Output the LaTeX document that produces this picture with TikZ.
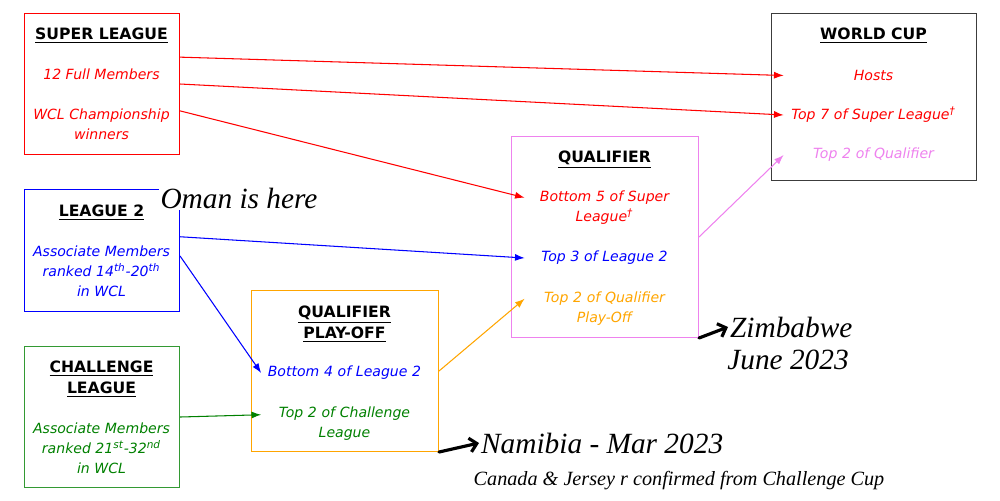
\documentclass[tikz,border=0pt]{standalone}
\usepackage{fontspec}
\setmainfont{DejaVu Sans}
\newfontfamily\handfont{Liberation Serif}
\usetikzlibrary{%
    arrows.meta,%
    positioning
    }
\definecolor{slred}{RGB}{255,0,0}
\definecolor{ltblue}{RGB}{0,0,255}
\definecolor{clgreen}{RGB}{0,128,0}
\definecolor{qporange}{RGB}{255,165,0}
\definecolor{qviolet}{RGB}{238,130,238}
\definecolor{wcgray}{RGB}{60,60,60}
\tikzset{
  stagebox/.style={
    rectangle,
    anchor=north west,
    line width=0.6pt,
    inner sep=0pt,
  },
  boxtitle/.style={
    align=center,
    inner sep=0pt,
    font=\fontsize{8.9}{11.9}\selectfont\bfseries,
  },
  boxentry/.style={
    align=center,
    inner sep=0pt,
    font=\fontsize{8}{11.3}\selectfont\itshape,
  },
  arrow3/.style={
    -{Latex[length=5.5pt,width=4pt]},
    line width=0.6pt,
  },
  handnote/.style={
    inner sep=1pt,
    font=\handfont\itshape\fontsize{16.7}{20}\selectfont,
  },
  handarrow/.style={
    -{Straight Barb[length=4pt,width=8pt]},
    line width=1.8pt,
    line cap=round,
  },
}

\begin{document}
\begin{tikzpicture}[x=0.02cm,y=-0.02cm]
\useasboundingbox (0,0) rectangle (1000,500);

% boxes
\node[stagebox,draw=slred,minimum width=3.1cm,minimum height=2.82cm]
  (sl) at (24,13) {};
\node[stagebox,draw=ltblue,minimum width=3.1cm,minimum height=2.44cm]
  (l2) at (24,189) {};
\node[stagebox,draw=clgreen!80,minimum width=3.1cm,minimum height=2.82cm]
  (cl) at (24,346) {};
\node[stagebox,draw=qporange,minimum width=3.74cm,minimum height=3.22cm]
  (qpo) at (251,290) {};
\node[stagebox,draw=qviolet,minimum width=3.74cm,minimum height=4.02cm]
  (q) at (511,136) {};
\node[stagebox,draw=wcgray,minimum width=4.1cm,minimum height=3.34cm]
  (wc) at (771,13) {};

% super league
\node[boxtitle] (sltitle) at (101.5,36) {\underline{SUPER LEAGUE}};
\node[boxentry,text=slred] (slfull) at (101.5,74) {12 Full Members};
\node[boxentry,text=slred] (slwcl) at (101.5,124) {WCL Championship\\winners};

% league 2
\node[boxtitle] (l2title) at (101.5,213) {\underline{LEAGUE 2}};
\node[boxentry,text=ltblue] (l2assoc) at (101.5,271)
  {Associate Members\\ranked 14\textsuperscript{th}-20\textsuperscript{th}\\in WCL};

% challenge league
\node[boxtitle] (cltitle) at (101.5,379) {\underline{CHALLENGE}\\\underline{LEAGUE}};
\node[boxentry,text=clgreen] (classoc) at (101.5,448)
  {Associate Members\\ranked 21\textsuperscript{st}-32\textsuperscript{nd}\\in WCL};

% qualifier play-off
\node[boxtitle] (qpotitle) at (344.5,324) {\underline{QUALIFIER}\\\underline{PLAY-OFF}};
\node[boxentry,text=ltblue,text width=3.32cm] (qpobot) at (344.5,373) {Bottom 4 of League 2};
\node[boxentry,text=clgreen,text width=3.32cm] (qpotop) at (344.5,423.5) {Top 2 of Challenge\\League};

% qualifier
\node[boxtitle] (qtitle) at (604.5,160) {\underline{QUALIFIER}};
\node[boxentry,text=slred,text width=3.18cm] (qbot) at (604.5,207.5)
  {Bottom 5 of Super\\League\textsuperscript{†}};
\node[boxentry,text=ltblue,text width=3.18cm] (qtopl) at (604.5,258) {Top 3 of League 2};
\node[boxentry,text=qporange,text width=3.18cm] (qtopp) at (604.5,308.5)
  {Top 2 of Qualifier\\Play-Off};

% world cup
\node[boxtitle] (wctitle) at (873.5,36) {\underline{WORLD CUP}};
\node[boxentry,text=slred,text width=3.58cm] (hosts) at (873.5,75.5) {Hosts};
\node[boxentry,text=slred,text width=3.58cm] (wcsl) at (873.5,115)
  {Top 7 of Super League\textsuperscript{†}};
\node[boxentry,text=qviolet,text width=3.58cm] (wcq) at (873.5,155) {Top 2 of Qualifier};

\draw[arrow3,slred] (sl.19) -- (hosts.west);
\draw[arrow3,slred] (sl.east) -- (wcsl.west);
\draw[arrow3,slred] (sl.-19) -- (qbot.173);
\draw[arrow3,ltblue] (l2.10) -- (qtopl.west);
\draw[arrow3,ltblue] (l2.-4) -- (qpobot.west);
\draw[arrow3,clgreen] (cl.east) -- (qpotop.174);
\draw[arrow3,qporange] (qpo.east) -- (qtopp.173);
\draw[arrow3,qviolet] (q.east) -- (wcq.west);

% notes
\node[handnote,fill=white] (oman) at (239,198) {Oman is here};
\node[handnote,anchor=west] (zim) at (728,327) {Zimbabwe};
\node[handnote] (june) at (788,360) {June 2023};
\node[handnote,anchor=west] (nam) at (479,443) {Namibia - Mar 2023};
\node[handnote,font=\handfont\itshape\fontsize{11.5}{14}\selectfont]
  (canjer) at (679,481) {Canada \& Jersey r confirmed from Challenge Cup};

\draw[handarrow] (q.south east) -- (zim.west);
\draw[handarrow] (qpo.south east) -- (nam.west);
\end{tikzpicture}
\end{document}
